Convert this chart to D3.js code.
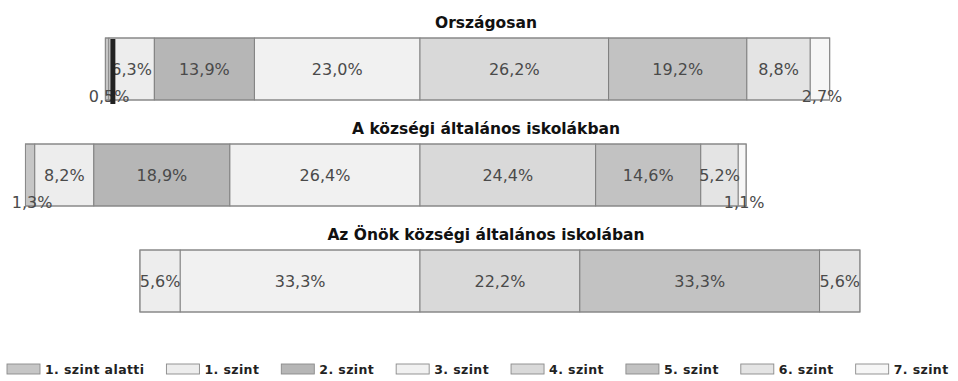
<!DOCTYPE html>
<html lang="hu">
<head>
<meta charset="utf-8">
<script src="https://cdn.jsdelivr.net/npm/d3@7/dist/d3.min.js"></script>
<style>
  html, body { margin: 0; padding: 0; background: #ffffff; }
  svg { display: block; }
</style>
</head>
<body>
<svg id="chart" width="958" height="381"></svg>
<script>
// Bar groups (one stacked bar each)
const categories = [
  "Országosan",
  "A községi általános iskolákban",
  "Az Önök községi általános iskolában"
];

// Proficiency levels, in stacking order
const levels = [
  "1. szint alatti", "1. szint", "2. szint", "3. szint",
  "4. szint", "5. szint", "6. szint", "7. szint"
];

// Share of students per level (%)
const national = [0.5, 6.3, 13.9, 23.0, 26.2, 19.2, 8.8, 2.7];
const village  = [1.3, 8.2, 18.9, 26.4, 24.4, 14.6, 5.2, 1.1];
const local    = [0, 5.6, 0, 33.3, 22.2, 33.3, 5.6, 0];

const seriesValues = [national, village, local];

// Fill per level
const levelColors = ["#c6c6c6", "#ededed", "#b6b6b6", "#f1f1f1",
                     "#d9d9d9", "#c2c2c2", "#e4e4e4", "#f6f6f6"];

// Bars are aligned on the boundary between level 3 and level 4
const splitIndex = 4;

const svg = d3.select("#chart");

const x = d3.scaleLinear().domain([-50, 50]).range([60, 780]);
const y = d3.scaleBand()
  .domain(categories)
  .range([38, 312])
  .paddingInner(44 / 106)
  .paddingOuter(0);

const color = d3.scaleOrdinal().domain(levels).range(levelColors);
const fmt = v => v.toFixed(1).replace(".", ",") + "%";

// Build segments: start offset so that the split boundary sits at 0
const rows = categories.map((cat, i) => {
  const vals = seriesValues[i];
  const before = d3.sum(vals.slice(0, splitIndex));
  let acc = -before;
  const segs = vals.map((v, j) => {
    const s = { cat, level: levels[j], value: v, x0: acc, x1: acc + v, idx: j };
    acc += v;
    return s;
  });
  return { cat, segs, start: -before, end: acc };
});

const groups = svg.selectAll("g.row")
  .data(rows)
  .join("g")
  .attr("class", "row");

// Titles above each bar
groups.append("text")
  .attr("x", 486)
  .attr("y", d => y(d.cat) - 10)
  .attr("text-anchor", "middle")
  .attr("font-family", "DejaVu Sans, sans-serif")
  .attr("font-weight", "bold")
  .attr("font-size", 15.5)
  .attr("fill", "#111")
  .text(d => d.cat);

// Segments
groups.selectAll("rect.seg")
  .data(d => d.segs.filter(s => s.value > 0))
  .join("rect")
  .attr("class", "seg")
  .attr("x", s => x(s.x0))
  .attr("y", s => y(s.cat))
  .attr("width", s => x(s.x1) - x(s.x0))
  .attr("height", y.bandwidth())
  .attr("fill", s => color(s.level))
  .attr("stroke", "#7a7a7a")
  .attr("stroke-width", 0.9);

// Outline of each bar
groups.append("rect")
  .attr("x", d => x(d.start))
  .attr("y", d => y(d.cat))
  .attr("width", d => x(d.end) - x(d.start))
  .attr("height", y.bandwidth())
  .attr("fill", "none")
  .attr("stroke", "#8a8a8a")
  .attr("stroke-width", 1);

// Dark edge on the left of the national bar
const first = rows[0];
svg.append("rect")
  .attr("x", x(first.start) + 5)
  .attr("y", y(first.cat) + 1)
  .attr("width", 5)
  .attr("height", y.bandwidth() + 3)
  .attr("fill", "#222");

// Value labels: centred in the segment; thin segments get theirs at the bottom edge
groups.selectAll("text.val")
  .data(d => d.segs.filter(s => s.value > 0))
  .join("text")
  .attr("class", "val")
  .attr("x", s => (x(s.x0) + x(s.x1)) / 2 + (s.value < 3 ? 2 : 0))
  .attr("y", s => s.value < 3
    ? y(s.cat) + y.bandwidth() + 2
    : y(s.cat) + y.bandwidth() / 2 + 6)
  .attr("text-anchor", "middle")
  .attr("font-family", "DejaVu Sans, sans-serif")
  .attr("font-size", 16)
  .attr("fill", "#4a4a4a")
  .text(s => fmt(s.value));

// Legend along the bottom
const legend = svg.append("g").attr("class", "legend");
let lx = 7;
levels.forEach((lvl, i) => {
  const g = legend.append("g").attr("transform", `translate(${lx},364)`);
  g.append("rect")
    .attr("width", 33)
    .attr("height", 10)
    .attr("fill", color(lvl))
    .attr("stroke", "#8a8a8a")
    .attr("stroke-width", 0.9);
  const t = g.append("text")
    .attr("x", 38)
    .attr("y", 10)
    .attr("font-family", "DejaVu Sans, sans-serif")
    .attr("font-weight", "bold")
    .attr("font-size", 12.5)
    .attr("letter-spacing", 0.4)
    .attr("fill", "#222")
    .text(lvl);
  lx += 38 + t.node().getComputedTextLength() + 22;
});
</script>
</body>
</html>
